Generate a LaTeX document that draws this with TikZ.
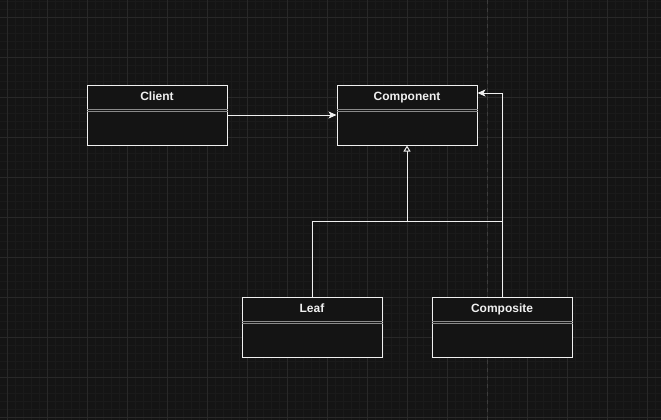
\documentclass[tikz,border=0pt]{standalone}
\usepackage{fontspec}
\setmainfont{Liberation Sans}
\usetikzlibrary{arrows.meta}
\definecolor{bgc}{HTML}{141414}
\definecolor{minorc}{HTML}{1A1A1A}
\definecolor{majorc}{HTML}{282828}
\definecolor{pagec}{HTML}{3C3C3C}
\definecolor{linec}{HTML}{F0F0F0}
\definecolor{sepc}{HTML}{8A8A8A}
\tikzset{
  classbox/.style={draw=linec, fill=bgc, line width=1pt, minimum width=140pt, minimum height=60pt, inner sep=0pt},
  classname/.style={text=linec, font=\bfseries\fontsize{12}{14}\selectfont, inner sep=0pt, anchor=base},
  sepline/.style={draw=sepc, line width=0.8pt},
  conn/.style={draw=linec, line width=1pt},
  assoc/.style={conn, -{Stealth[length=8pt,width=7pt,inset=2pt]}},
  inherit/.style={conn, -{Triangle[open,length=6pt,width=7pt,fill=bgc]}},
}
\begin{document}
\begin{tikzpicture}[x=1pt,y=-1pt]
\useasboundingbox (0,0) rectangle (661,420);
\fill[bgc] (0,0) rectangle (661,420);
\foreach \x in {7,15,...,655} \draw[minorc, line width=0.6pt] (\x,0) -- (\x,420);
\foreach \y in {1,9,...,417} \draw[minorc, line width=0.6pt] (0,\y) -- (661,\y);
\foreach \x in {7,47,...,647} \draw[majorc, line width=0.8pt] (\x,0) -- (\x,420);
\foreach \y in {17,57,...,417} \draw[majorc, line width=0.8pt] (0,\y) -- (661,\y);
\draw[pagec, line width=0.8pt, dash pattern=on 4pt off 4pt] (487,0) -- (487,420);

% classes
\node[classbox] (client) at (157,115) {};
\node[classbox] (component) at (407,115) {};
\node[classbox] (leaf) at (312,327) {};
\node[classbox] (composite) at (502,327) {};

\foreach \n/\t in {client/Client, component/Component, leaf/Leaf, composite/Composite} {
  \node[classname] (\n-title) at ([yshift=-16pt]\n.north) {\t};
  \draw[sepline] ([yshift=-25pt]\n.north west) -- ([yshift=-25pt]\n.north east);
  \draw[sepline] ([yshift=-27pt]\n.north west) -- ([yshift=-27pt]\n.north east);
}

% connectors
\coordinate (junction) at (407,221);
\coordinate (corner) at (502,93);
\draw[assoc] (client.east) -- (component.west);
\draw[conn] (leaf.north) |- (composite.north |- junction) -- (composite.north);
\draw[inherit] (junction) -- (component.south);
\draw[assoc] (composite.north) -- (corner) -- (component.east |- corner);
\end{tikzpicture}
\end{document}
